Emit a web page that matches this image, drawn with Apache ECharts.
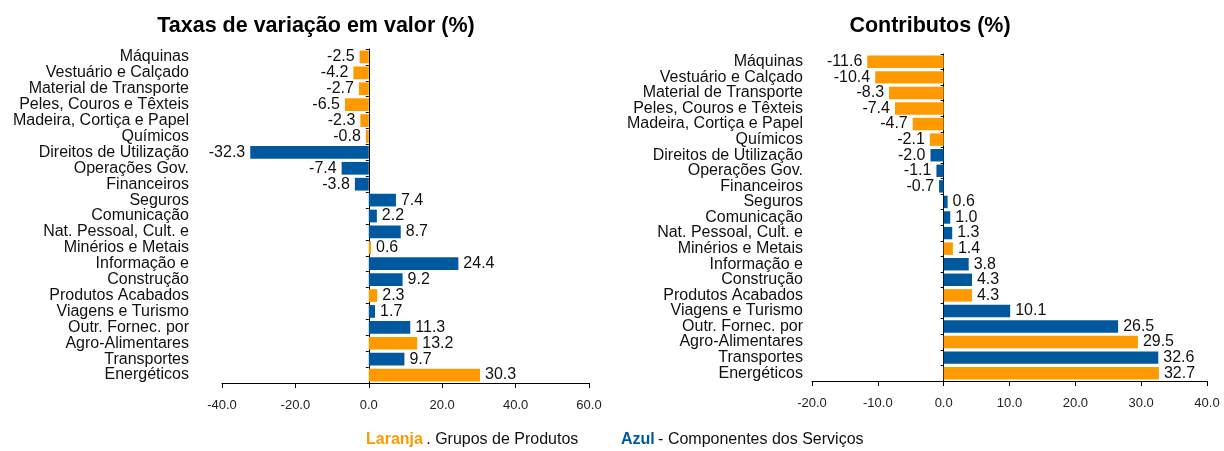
<!DOCTYPE html>
<html>
<head>
<meta charset="utf-8">
<script src="https://cdn.jsdelivr.net/npm/echarts@6/dist/echarts.min.js"></script>
<style>
  html, body { margin: 0; padding: 0; background: #fff; }
  #chart { width: 1224px; height: 451px; }
</style>
</head>
<body>
<div id="chart"></div>
<script>
const categories = [
  'Máquinas', 'Vestuário e Calçado', 'Material de Transporte', 'Peles, Couros e Têxteis',
  'Madeira, Cortiça e Papel', 'Químicos', 'Direitos de Utilização', 'Operações Gov.',
  'Financeiros', 'Seguros', 'Comunicação', 'Nat. Pessoal, Cult. e', 'Minérios e Metais',
  'Informação e', 'Construção', 'Produtos Acabados', 'Viagens e Turismo',
  'Outr. Fornec. por', 'Agro-Alimentares', 'Transportes', 'Energéticos'
]
// P = grupo de produtos (laranja), S = componente dos serviços (azul)
const groups = ['P', 'P', 'P', 'P', 'P', 'P', 'S', 'S', 'S', 'S', 'S', 'S', 'P', 'S', 'S', 'P', 'S', 'S', 'P', 'S', 'P']
const taxas = [-2.5, -4.2, -2.7, -6.5, -2.3, -0.8, -32.3, -7.4, -3.8, 7.4, 2.2, 8.7, 0.6, 24.4, 9.2, 2.3, 1.7, 11.3, 13.2, 9.7, 30.3]
const contributos = [-11.6, -10.4, -8.3, -7.4, -4.7, -2.1, -2.0, -1.1, -0.7, 0.6, 1.0, 1.3, 1.4, 3.8, 4.3, 4.3, 10.1, 26.5, 29.5, 32.6, 32.7]

const ORANGE = '#FF9900'
const BLUE = '#00599F'
const FONT = 'Liberation Sans, Arial, sans-serif'

const toItems = (values) => values.map((v, i) => ({
  value: v,
  itemStyle: { color: groups[i] === 'P' ? ORANGE : BLUE },
  label: { position: v < 0 ? 'left' : 'right' }
}))

const xAxisBase = (min, max, interval) => ({
  type: 'value',
  min, max, interval,
  splitLine: { show: false },
  axisLine: { show: true, lineStyle: { color: '#000', width: 1 } },
  axisTick: { show: true, length: 5, lineStyle: { color: '#000' } },
  axisLabel: { fontFamily: FONT, fontSize: 13, color: '#222', margin: 16, formatter: (v) => v.toFixed(1) }
})

const yAxisBase = (gridIndex, margin) => ({
  type: 'category',
  gridIndex,
  data: categories,
  inverse: true,
  axisLine: { show: true, onZero: true, lineStyle: { color: '#000', width: 1 } },
  axisTick: { show: true, length: 3, lineStyle: { color: '#000' } },
  axisLabel: { fontFamily: FONT, fontSize: 16, color: '#111', margin, interval: 0 }
})

const seriesBase = (index, values) => ({
  type: 'bar',
  xAxisIndex: index,
  yAxisIndex: index,
  barCategoryGap: '20%',
  data: toItems(values),
  label: {
    show: true,
    fontFamily: FONT,
    fontSize: 16,
    color: '#111',
    distance: 5,
    formatter: (p) => p.value.toFixed(1)
  }
})

const chart = echarts.init(document.getElementById('chart'))
chart.setOption({
  animation: false,
  title: [
    { text: 'Taxas de variação em valor (%)', left: 311, top: 10, textAlign: 'center',
      textStyle: { fontFamily: FONT, fontSize: 21.5, fontWeight: 'bold', color: '#000' } },
    { text: 'Contributos (%)', left: 925, top: 10, textAlign: 'center',
      textStyle: { fontFamily: FONT, fontSize: 21.5, fontWeight: 'bold', color: '#000' } }
  ],
  grid: [
    { left: 222, right: 635, top: 49, height: 334, outerBoundsMode: 'none', containLabel: false },
    { left: 812, right: 17, top: 54, height: 327, outerBoundsMode: 'none', containLabel: false }
  ],
  xAxis: [
    Object.assign(xAxisBase(-40, 60, 20), { gridIndex: 0 }),
    Object.assign(xAxisBase(-20, 40, 10), { gridIndex: 1 })
  ],
  yAxis: [yAxisBase(0, 33), yAxisBase(1, 9)],
  series: [seriesBase(0, taxas), seriesBase(1, contributos)],
  graphic: [
    {
      type: 'text', left: 366, top: 432,
      style: {
        text: '{o|Laranja} {t|. Grupos de Produtos}',
        rich: {
          o: { fontFamily: FONT, fontSize: 16, fontWeight: 'bold', fill: ORANGE },
          t: { fontFamily: FONT, fontSize: 16, fill: '#111' }
        }
      }
    },
    {
      type: 'text', left: 621, top: 432,
      style: {
        text: '{b|Azul} {t|- Componentes dos Serviços}',
        rich: {
          b: { fontFamily: FONT, fontSize: 16, fontWeight: 'bold', fill: BLUE },
          t: { fontFamily: FONT, fontSize: 16, fill: '#111' }
        }
      }
    }
  ]
})
window.addEventListener('resize', () => chart.resize())
</script>
</body>
</html>
